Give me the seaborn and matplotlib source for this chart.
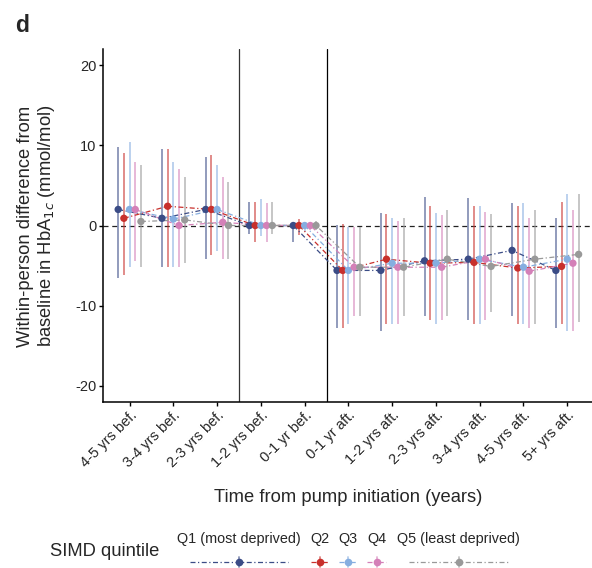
import numpy as np
import pandas as pd
import matplotlib
matplotlib.use("Agg")
import matplotlib.pyplot as plt
import seaborn as sns
from matplotlib.lines import Line2D

categories = ["4-5 yrs bef.", "3-4 yrs bef.", "2-3 yrs bef.", "1-2 yrs bef.", "0-1 yr bef.",
              "0-1 yr aft.", "1-2 yrs aft.", "2-3 yrs aft.", "3-4 yrs aft.", "4-5 yrs aft.", "5+ yrs aft."]
quintiles = ["Q1 (most deprived)", "Q2", "Q3", "Q4", "Q5 (least deprived)"]

q1_mean = [2.0, 0.9, 2.0, 0, 0, -5.6, -5.6, -4.4, -4.2, -3.1, -5.6]
q1_lo = [-6.5, -5.2, -4.2, -1.1, -2.1, -12.8, -13.2, -11.3, -11.8, -11.3, -12.8]
q1_hi = [9.8, 9.5, 8.5, 2.9, 0.3, 0.1, 1.5, 3.5, 3.4, 2.8, 0.9]

q2_mean = [0.9, 2.4, 2.0, 0, 0, -5.6, -4.2, -4.7, -4.6, -5.3, -5.1]
q2_lo = [-6.2, -5.2, -3.7, -2.1, -1.2, -12.8, -12.3, -11.8, -12.3, -12.3, -12.3]
q2_hi = [9.0, 9.5, 8.8, 2.9, 0.8, 0.2, 1.4, 2.4, 2.4, 2.4, 2.9]

q3_mean = [2.0, 0.8, 2.0, 0, 0, -5.6, -4.7, -4.7, -4.2, -5.2, -4.2]
q3_lo = [-5.2, -5.2, -3.2, -1.3, -0.8, -12.3, -12.3, -12.3, -12.3, -12.3, -13.2]
q3_hi = [10.4, 7.9, 7.5, 3.3, 0.2, -0.2, 0.9, 1.6, 2.4, 2.8, 3.9]

q4_mean = [2.0, 0.0, 0.4, 0, 0, -5.2, -5.2, -5.2, -4.2, -5.7, -4.7]
q4_lo = [-4.4, -5.2, -4.2, -2.1, -0.6, -11.3, -12.3, -11.8, -11.8, -12.8, -13.2]
q4_hi = [7.9, 7.0, 6.0, 2.8, 0.2, -0.2, 0.5, 1.3, 1.7, 0.9, 1.9]

q5_mean = [0.5, 0.7, 0.0, 0, 0, -5.2, -5.2, -4.2, -5.1, -4.2, -3.6]
q5_lo = [-5.2, -4.7, -4.2, -1.1, -0.6, -11.3, -11.3, -11.3, -10.8, -12.3, -12.0]
q5_hi = [7.5, 6.0, 5.4, 2.9, 0.6, -0.2, 0.9, 1.9, 1.4, 1.9, 3.9]

colors = ["#3B4C86", "#C8302C", "#86AEE0", "#D480B8", "#999999"]

means = [q1_mean, q2_mean, q3_mean, q4_mean, q5_mean]
los = [q1_lo, q2_lo, q3_lo, q4_lo, q5_lo]
his = [q1_hi, q2_hi, q3_hi, q4_hi, q5_hi]

dodge = 0.13
rows = []
for qi, q in enumerate(quintiles):
    for ci, c in enumerate(categories):
        rows.append(dict(quintile=q, category=c, xpos=ci + (qi - 2) * dodge,
                         mean=means[qi][ci], lo=los[qi][ci], hi=his[qi][ci]))
df = pd.DataFrame(rows)

sns.set_style("white")
plt.rcParams["font.family"] = ["Liberation Sans", "DejaVu Sans"]

fig = plt.figure(figsize=(5.92, 5.68), dpi=100)
ax = fig.add_axes([103.3 / 592, 1 - 402 / 568, (593.5 - 103.3) / 592, (402 - 49) / 568])

palette = dict(zip(quintiles, colors))

# error bars
for qi, q in enumerate(quintiles):
    sub = df[df.quintile == q]
    ax.vlines(sub.xpos, sub.lo, sub.hi, color=colors[qi], alpha=0.6, linewidth=1.3, zorder=2)

ax.axhline(0, color="#222222", linestyle=(0, (4, 3)), linewidth=0.9, zorder=1)
ax.axvline(2.5, color="#333333", linewidth=0.9, zorder=1)
ax.axvline(4.5, color="black", linewidth=0.9, zorder=1)

dash = (4, 2, 1, 2)
sns.lineplot(data=df, x="xpos", y="mean", hue="quintile", style="quintile",
             palette=palette, dashes={q: dash for q in quintiles}, linewidth=0.9,
             legend=False, ax=ax, zorder=3)
sns.scatterplot(data=df, x="xpos", y="mean", hue="quintile", palette=palette,
                s=28, edgecolor="none", legend=False, ax=ax, zorder=4)

ax.set_xlim(-0.6, 10.6)
ax.set_ylim(-22, 22)
ax.set_xticks(range(len(categories)))
ax.set_xticklabels(categories, rotation=45, ha="right", va="top", rotation_mode="anchor", fontsize=10.5)
ax.set_yticks([-20, -10, 0, 10, 20])
ax.set_yticklabels(["-20", "-10", "0", "10", "20"], fontsize=10.5)
ax.tick_params(axis="both", which="major", bottom=True, left=True, length=3, width=1.0,
               color="black", direction="out")
ax.tick_params(axis="x", pad=1.5)
ax.tick_params(axis="y", pad=2)
for s in ["top", "right"]:
    ax.spines[s].set_visible(False)
for s in ["left", "bottom"]:
    ax.spines[s].set_color("black")
    ax.spines[s].set_linewidth(1.1)

ax.set_xlabel("Time from pump initiation (years)", fontsize=13.2, labelpad=14)
ax.set_ylabel("")
fig.text(37 / 592, 1 - 226 / 568, "Within-person difference from\nbaseline in HbA$_{1c}$ (mmol/mol)",
         fontsize=13.2, rotation=90, ha="center", va="center", linespacing=1.12, multialignment="center")

fig.text(15 / 592, 1 - 31.7 / 568, "d", fontsize=16.5, fontweight="bold", va="baseline", ha="left")

# legend
fig.text(105 / 592, 1 - 551 / 568, "SIMD quintile", fontsize=13.2, va="center", ha="center")
label_cx = [239, 320, 348, 376.5, 458.5]
key_half = [49, 9, 9, 9, 49]
for qi, q in enumerate(quintiles):
    cx = label_cx[qi] / 592
    fig.text(cx, 1 - 539 / 568, q, fontsize=10.4, va="center", ha="center")
    ky = 1 - 562 / 568
    fig.add_artist(Line2D([cx - key_half[qi] / 592, cx + key_half[qi] / 592], [ky, ky],
                          color=colors[qi], linestyle=(0, dash), linewidth=0.9,
                          transform=fig.transFigure))
    fig.add_artist(Line2D([cx, cx], [ky - 5 / 568, ky + 5 / 568], color=colors[qi], alpha=0.6,
                          linewidth=1.3, transform=fig.transFigure))
    fig.add_artist(Line2D([cx], [ky], marker="o", markersize=5.5, color=colors[qi],
                          markeredgewidth=0, transform=fig.transFigure))

fig.savefig("out.png", dpi=100)
